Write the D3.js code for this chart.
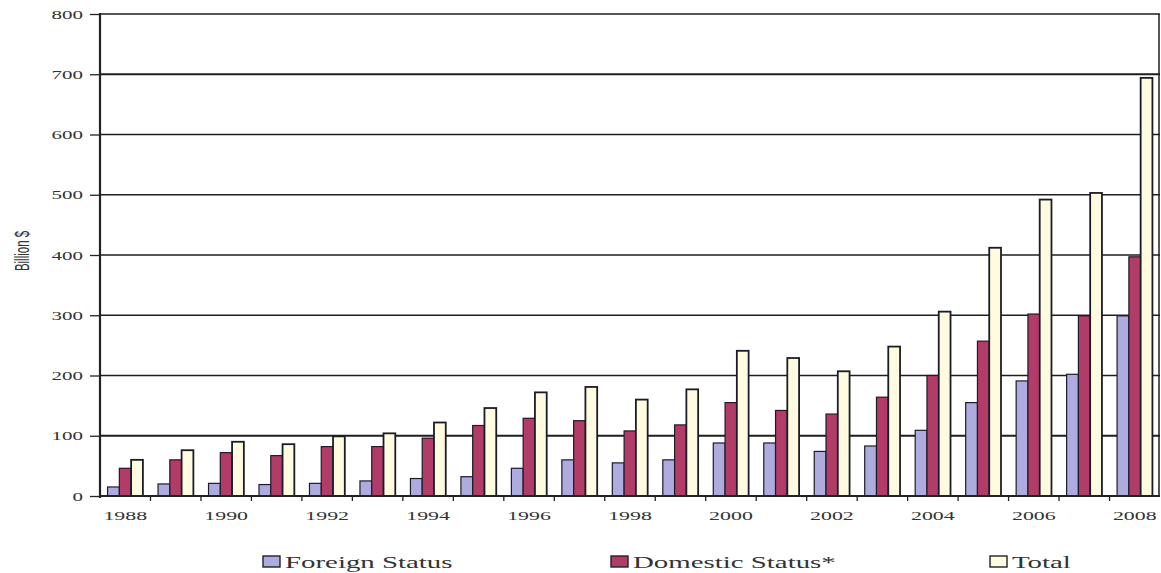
<!DOCTYPE html>
<html>
<head>
<meta charset="utf-8">
<script src="https://cdn.jsdelivr.net/npm/d3@7"></script>
<style>
  html, body { margin: 0; padding: 0; background: #fff; }
  svg { display: block; }
  text { font-family: "Liberation Serif", "Times New Roman", serif; fill: #333; }
</style>
</head>
<body>
<svg id="chart" width="1161" height="573"></svg>
<script>
// Yearly values, billion $
const years = ["1988","1989","1990","1991","1992","1993","1994","1995","1996","1997","1998",
               "1999","2000","2001","2002","2003","2004","2005","2006","2007","2008"];
const foreignStatus  = [15, 20, 21, 19, 21, 25, 29, 32, 46, 60, 55, 60, 88, 88, 74, 83, 109, 155, 191, 202, 299];
const domesticStatus = [46, 60, 72, 67, 82, 82, 96, 117, 129, 125, 108, 118, 155, 142, 136, 164, 200, 257, 302, 299, 397];
const totalValues    = [60, 76, 90, 86, 99, 104, 122, 146, 172, 181, 160, 177, 241, 229, 207, 248, 306, 412, 492, 503, 694];

const seriesNames  = ["Foreign Status", "Domestic Status*", "Total"];
const seriesColors = ["#aeacdf", "#b23c68", "#fffbe0"];
const yTicks = [0, 100, 200, 300, 400, 500, 600, 700, 800];
const xTickLabels = ["1988","1990","1992","1994","1996","1998","2000","2002","2004","2006","2008"];

const seriesValues = [foreignStatus, domesticStatus, totalValues];
const rows = years.map((yr, i) => ({ year: yr, values: seriesValues.map((s, k) => ({ key: seriesNames[k], value: s[i] })) }));

const svg = d3.select("#chart");
const plotLeft = 100, plotRight = 1160, plotTop = 14, plotBottom = 496;
const stretch = 1.75;   // wide letterforms used throughout the figure

const x = d3.scaleBand().domain(years).range([plotLeft, plotRight]).paddingInner(0).paddingOuter(0);
const x1 = d3.scaleBand().domain(seriesNames).range([x.bandwidth() * 0.15, x.bandwidth() * 0.85]).padding(0);
const y = d3.scaleLinear().domain([0, 800]).range([plotBottom, plotTop]);
const color = d3.scaleOrdinal().domain(seriesNames).range(seriesColors);

// horizontal grid lines
svg.append("g").selectAll("line").data(yTicks.filter(d => d > 0)).join("line")
  .attr("x1", plotLeft).attr("x2", plotRight)
  .attr("y1", d => y(d)).attr("y2", d => y(d))
  .attr("stroke", "#1e1e1e")
  .attr("stroke-width", d => (d === 700 || d === 100) ? 2 : 1.4);

// right frame
svg.append("line").attr("x1", plotRight - 1).attr("x2", plotRight - 1)
  .attr("y1", plotTop).attr("y2", plotBottom).attr("stroke", "#1e1e1e").attr("stroke-width", 1.5);

// bars
const groups = svg.append("g").selectAll("g").data(rows).join("g")
  .attr("transform", d => `translate(${x(d.year)},0)`);
groups.selectAll("rect").data(d => d.values).join("rect")
  .attr("x", d => x1(d.key))
  .attr("width", x1.bandwidth())
  .attr("y", d => y(d.value))
  .attr("height", d => y(0) - y(d.value))
  .attr("fill", d => color(d.key))
  .attr("stroke", "#1c1c28")
  .attr("stroke-width", d => d.key === "Total" ? 1.8 : 1.2);

// y axis
const yAxis = svg.append("g").attr("transform", `translate(${plotLeft},0)`)
  .call(d3.axisLeft(y).tickValues(yTicks).tickSize(10).tickPadding(0).tickFormat(d3.format("d")));
yAxis.select(".domain").attr("stroke", "#222").attr("stroke-width", 2.2).attr("d", `M0,${plotTop - 1}V${plotBottom + 2}`);
yAxis.selectAll(".tick line").attr("stroke", "#222").attr("stroke-width", 1.3);
yAxis.selectAll(".tick text")
  .attr("x", null).attr("dy", null)
  .attr("text-anchor", "end")
  .attr("font-size", 12)
  .attr("font-family", "Liberation Serif, serif")
  .attr("fill", "#444")
  .attr("transform", `translate(-17,4) scale(${stretch},1)`);

// x axis
const xAxis = svg.append("g").attr("transform", `translate(0,${plotBottom})`);
xAxis.append("line").attr("x1", plotLeft).attr("x2", plotRight).attr("stroke", "#222").attr("stroke-width", 2);
xAxis.selectAll("line.tk").data(years.slice(1)).join("line").attr("class", "tk")
  .attr("x1", d => x(d)).attr("x2", d => x(d))
  .attr("y1", 0).attr("y2", 5)
  .attr("stroke", "#222").attr("stroke-width", 1.3);
xAxis.selectAll("text").data(xTickLabels).join("text")
  .attr("text-anchor", "middle")
  .attr("font-size", 12.5)
  .attr("fill", "#444")
  .attr("transform", d => `translate(${x(d) + x.bandwidth() / 2},${24}) scale(${stretch},1)`)
  .text(d => d);

// y axis title
svg.append("text")
  .attr("text-anchor", "middle")
  .attr("font-size", 11.5)
  .attr("fill", "#333")
  .attr("transform", `translate(29,251) scale(${stretch},1) rotate(-90)`)
  .style("font-family", "'Liberation Sans Narrow', 'Liberation Sans', sans-serif")
  .text("Billion $");

// legend
const legendX = [263, 611, 990];
const legend = svg.append("g").selectAll("g").data(seriesNames).join("g")
  .attr("transform", (d, i) => `translate(${legendX[i]},556)`);
legend.append("rect")
  .attr("width", 17).attr("height", 11)
  .attr("fill", d => color(d))
  .attr("stroke", "#222").attr("stroke-width", 1.4);
legend.append("text")
  .attr("font-size", 16.5)
  .attr("fill", "#333")
  .attr("transform", `translate(22,11.5) scale(${stretch},1)`)
  .text(d => d);
</script>
</body>
</html>
